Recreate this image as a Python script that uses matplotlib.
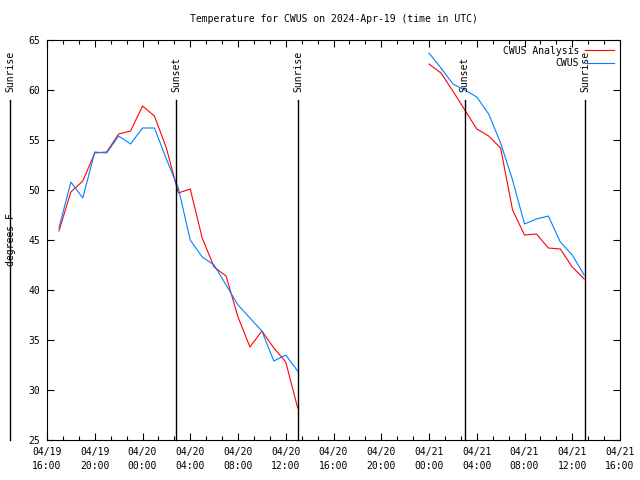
import matplotlib
matplotlib.use('Agg')
import matplotlib.pyplot as plt
import matplotlib.dates as mdates
from matplotlib.ticker import AutoMinorLocator
import pandas as pd

# Valores (graus F, de hora em hora)
t1 = pd.date_range('2024-04-19 17:00', '2024-04-20 13:00', freq='h')
analise1 = [45.9, 49.8, 50.9, 53.7, 53.8, 55.6, 55.9, 58.4, 57.4, 54.2, 49.7,
            50.1, 45.2, 42.3, 41.4, 37.3, 34.3, 35.9, 34.2, 32.8, 28.2]
cwus1 = [46.2, 50.8, 49.2, 53.8, 53.7, 55.4, 54.6, 56.2, 56.2, 53.1, 50.2,
         45.0, 43.3, 42.5, 40.5, 38.5, 37.2, 35.9, 32.9, 33.5, 31.9]

t2 = pd.date_range('2024-04-21 00:00', '2024-04-21 13:00', freq='h')
analise2 = [62.6, 61.7, 59.9, 58.0, 56.1, 55.4, 54.2, 48.0, 45.5, 45.6, 44.2,
            44.1, 42.3, 41.1]
cwus2 = [63.7, 62.2, 60.6, 60.0, 59.3, 57.6, 54.7, 51.0, 46.6, 47.1, 47.4,
         44.8, 43.5, 41.5]

# Nascer e pôr do sol (UTC)
eventos = ['Sunrise', 'Sunset', 'Sunrise', 'Sunset', 'Sunrise']
horarios = pd.to_datetime(['2024-04-19 12:54', '2024-04-20 02:48', '2024-04-20 13:01',
                           '2024-04-21 03:00', '2024-04-21 13:04'])

titulo = 'Temperature for CWUS on 2024-Apr-19 (time in UTC)'
fonte = 'DejaVu Sans Mono'
vermelho = '#ff0000'
azul = '#0080ff'

plt.rcParams['font.family'] = fonte
plt.rcParams['font.size'] = 7

fig = plt.figure(figsize=(6.4, 4.8), dpi=100)
ax = fig.add_axes([47 / 640, 40 / 480, 573 / 640, 400 / 480])

# Séries
ax.plot(t1, analise1, color=vermelho, lw=0.8, label='CWUS Analysis')
ax.plot(t1, cwus1, color=azul, lw=0.8, label='CWUS')
ax.plot(t2, analise2, color=vermelho, lw=0.8)
ax.plot(t2, cwus2, color=azul, lw=0.8)

ax.set_xlim(pd.Timestamp('2024-04-19 16:00'), pd.Timestamp('2024-04-21 16:00'))
ax.set_ylim(25, 65)

# Linhas verticais de nascer/pôr do sol
for nome, h in zip(eventos, horarios):
    ax.plot([h, h], [25, 59], color='black', lw=1, clip_on=False)
    ax.text(h, 59.8, nome, rotation=90, ha='center', va='bottom', clip_on=False)

# Eixos
ax.xaxis.set_major_locator(mdates.HourLocator(byhour=range(0, 24, 4)))
ax.xaxis.set_minor_locator(AutoMinorLocator(3))
ax.xaxis.set_major_formatter(mdates.DateFormatter('%m/%d\n%H:%M'))
ax.set_yticks(range(25, 66, 5))
ax.tick_params(which='both', direction='in', top=True, right=True, width=0.8)
ax.tick_params(which='major', length=5, pad=5)
ax.tick_params(which='minor', length=3)
for lbl in ax.get_xticklabels():
    lbl.set_linespacing(1.5)
for s in ax.spines.values():
    s.set_linewidth(0.8)

ax.set_ylabel('degrees F')
ax.yaxis.set_label_coords(-31 / 573, 0.5)

fig.text(333.5 / 640, 1 - 19 / 480, titulo, ha='center', va='center')

leg = ax.legend(loc='upper right', frameon=False, markerfirst=False,
                handlelength=3.0, handletextpad=0.6, labelspacing=0.25,
                borderaxespad=0.2, fontsize=7)
for t in leg.get_texts():
    t.set_ha('right')

fig.savefig('out.png', dpi=100)
